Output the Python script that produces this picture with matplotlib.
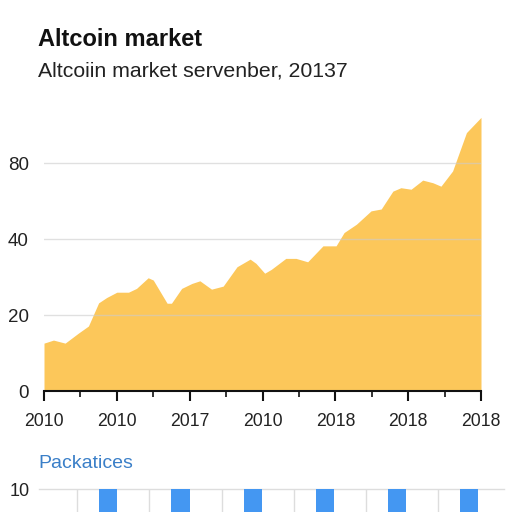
import matplotlib.pyplot as plt
from matplotlib.ticker import MultipleLocator

plt.rcParams['font.family'] = ['Liberation Sans', 'DejaVu Sans']

# area series (x in tick-interval units, y in axis units)
xs = [0.0, 0.13, 0.29, 0.47, 0.61, 0.75, 0.86, 1.0, 1.16, 1.27, 1.43, 1.50,
      1.69, 1.75, 1.89, 2.03, 2.14, 2.30, 2.46, 2.65, 2.83, 2.91, 3.03, 3.12,
      3.32, 3.46, 3.62, 3.83, 4.01, 4.12, 4.29, 4.49, 4.63, 4.79, 4.90, 5.04,
      5.20, 5.34, 5.45, 5.61, 5.80, 6.0]
ys = [12.6, 13.4, 12.6, 15.2, 17.1, 23.2, 24.6, 26.0, 26.0, 27.0, 29.8, 29.2,
      23.1, 23.1, 27.0, 28.3, 29.0, 26.8, 27.6, 32.7, 34.7, 33.6, 31.0, 32.0,
      34.9, 34.9, 34.0, 38.2, 38.2, 41.7, 43.9, 47.4, 47.9, 52.6, 53.5, 53.1,
      55.5, 54.8, 53.9, 57.9, 68.0, 72.0]
xlabels = ['2010', '2010', '2017', '2010', '2018', '2018', '2018']
yticks = [0, 20, 40, 60]
ylabels = ['0', '20', '40', '80']

# lower panel
bar_pos = [0.43, 1.43, 2.43, 3.43, 4.43, 5.43]
bar_vals = [10, 10, 10, 10, 10, 10]

fig = plt.figure(figsize=(5.12, 5.12), dpi=100)

fig.text(38/512, 1 - 39/512, 'Altcoin market', fontsize=17, fontweight='bold',
         va='center', ha='left', color='#111111')
fig.text(38/512, 1 - 71/512, 'Altcoiin market servenber, 20137', fontsize=15.3,
         va='center', ha='left', color='#222222')

ax = fig.add_axes([44/512, 0.2363, 437/512, 0.5418])
ax.fill_between(xs, ys, 0, color='#FCC75A', linewidth=0, zorder=1)
ax.set_xlim(0, 6)
ax.set_ylim(0, 73)
ax.set_yticks(yticks)
ax.set_yticklabels(ylabels)
ax.set_xticks(range(7))
ax.set_xticklabels(xlabels)
ax.xaxis.set_minor_locator(MultipleLocator(0.5))
for s in ['top', 'right', 'left']:
    ax.spines[s].set_visible(False)
ax.spines['bottom'].set_linewidth(1.5)
ax.spines['bottom'].set_color('#111111')
ax.spines['bottom'].set_zorder(3)
ax.yaxis.grid(True, color='#cccccc', alpha=0.6, linewidth=1, zorder=2)
ax.set_axisbelow(False)
ax.tick_params(axis='y', length=0, pad=11, labelsize=13.5, colors='#222222')
ax.tick_params(axis='x', which='major', direction='out', length=7, width=1.5,
               pad=9, labelsize=12.7, colors='#111111', labelcolor='#222222')
ax.tick_params(axis='x', which='minor', direction='out', length=4, width=1.2,
               colors='#111111')

fig.text(38/512, 1 - 464/512, 'Packatices', fontsize=14, va='center', ha='left',
         color='#3A7FC8')

ax2 = fig.add_axes([39/512, -0.1, 465/512, 0.1 + 23/512])
ax2.bar(bar_pos, bar_vals, width=0.25, color='#4497F2', zorder=2)
ax2.set_xlim(-0.53, 5.91)
ax2.set_ylim(0, 10)
ax2.set_yticks([10])
ax2.set_xticks(range(6))
ax2.tick_params(axis='x', length=0, labelbottom=False)
ax2.tick_params(axis='y', length=0, pad=7, labelsize=13, colors='#222222')
ax2.grid(True, color='#dddddd', linewidth=1, zorder=0)
ax2.set_axisbelow(True)
for s in ax2.spines.values():
    s.set_visible(False)
for gl in ax2.get_ygridlines():
    gl.set_clip_on(False)

fig.savefig('out.png', dpi=100)
